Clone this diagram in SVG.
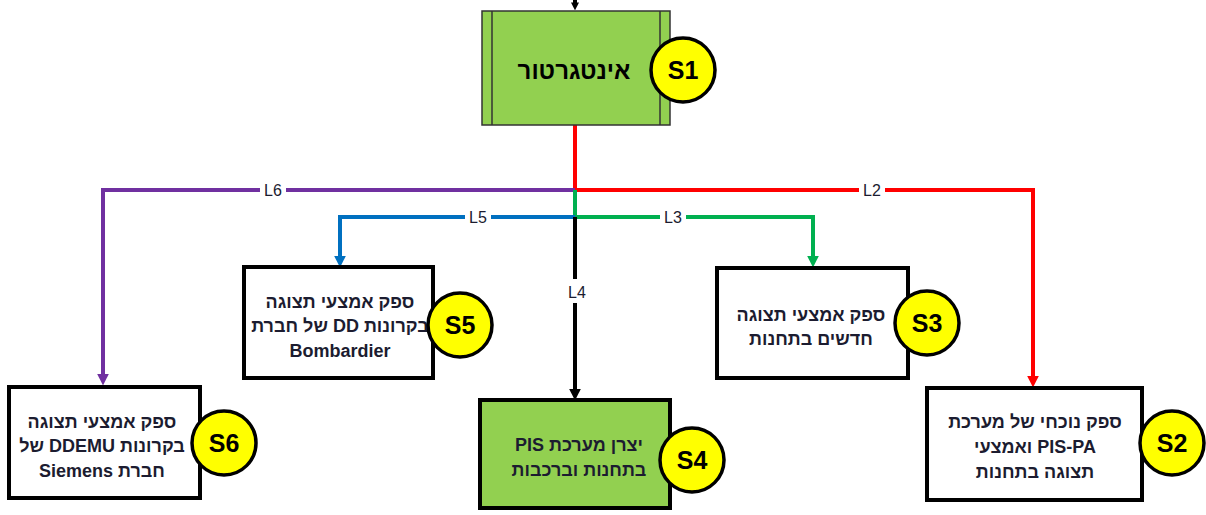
<svg xmlns="http://www.w3.org/2000/svg" width="1206" height="515" viewBox="0 0 1206 515">
<style>
.box{fill:#fff;stroke:#000;stroke-width:4}
.green{fill:#92d050}
.t{font-family:"Liberation Sans","DejaVu Sans",sans-serif;font-size:18px;font-weight:bold;fill:#1c1c30;text-anchor:middle;direction:rtl;unicode-bidi:embed}
.c{fill:#ffff00;stroke:#000;stroke-width:3.5}
.ct{font-family:"Liberation Sans",Arial,sans-serif;font-size:25px;font-weight:bold;fill:#000;text-anchor:middle}
.ln{fill:none;stroke-width:4}
.lb{font-family:"Liberation Sans",Arial,sans-serif;font-size:16px;fill:#1c1c30;text-anchor:middle}
.bg{fill:#fff}
</style>
<defs>
<marker id="aR" markerUnits="userSpaceOnUse" markerWidth="12" markerHeight="12" refX="2" refY="5" orient="auto" viewBox="0 0 10 10"><path d="M0,0 L10,5 L0,10 z" fill="#ff0000"/></marker>
<marker id="aP" markerUnits="userSpaceOnUse" markerWidth="12" markerHeight="12" refX="2" refY="5" orient="auto" viewBox="0 0 10 10"><path d="M0,0 L10,5 L0,10 z" fill="#7030a0"/></marker>
<marker id="aG" markerUnits="userSpaceOnUse" markerWidth="12" markerHeight="12" refX="2" refY="5" orient="auto" viewBox="0 0 10 10"><path d="M0,0 L10,5 L0,10 z" fill="#00b050"/></marker>
<marker id="aB" markerUnits="userSpaceOnUse" markerWidth="12" markerHeight="12" refX="2" refY="5" orient="auto" viewBox="0 0 10 10"><path d="M0,0 L10,5 L0,10 z" fill="#0070c0"/></marker>
<marker id="aK" markerUnits="userSpaceOnUse" markerWidth="12" markerHeight="12" refX="2" refY="5" orient="auto" viewBox="0 0 10 10"><path d="M0,0 L10,5 L0,10 z" fill="#000"/></marker>
<marker id="aT" markerUnits="userSpaceOnUse" markerWidth="8" markerHeight="8" refX="2" refY="5" orient="auto" viewBox="0 0 10 10"><path d="M0,0 L10,5 L0,10 z" fill="#000"/></marker>
</defs>
<rect width="1206" height="515" fill="#fff"/>

<g id="connectors">
<path class="ln" stroke="#000" stroke-width="1.5" d="M575,0 V4" marker-end="url(#aT)"/>
<path class="ln" stroke="#ff0000" d="M575,125 V190 H1033 V378" marker-end="url(#aR)"/>
<path class="ln" stroke="#7030a0" d="M575,190 H103 V376" marker-end="url(#aP)"/>
<path class="ln" stroke="#00b050" d="M575,190 V217 H813 V258" marker-end="url(#aG)"/>
<path class="ln" stroke="#0070c0" d="M575,217 H340 V258" marker-end="url(#aB)"/>
<path class="ln" stroke="#000" d="M575,217 V391" marker-end="url(#aK)"/>
<rect class="bg" x="859" y="181" width="26" height="18"/><text class="lb" x="872" y="196">L2</text>
<rect class="bg" x="260" y="181" width="26" height="18"/><text class="lb" x="273" y="196">L6</text>
<rect class="bg" x="660" y="208" width="26" height="18"/><text class="lb" x="673" y="223">L3</text>
<rect class="bg" x="465" y="208" width="26" height="18"/><text class="lb" x="478" y="223">L5</text>
<rect class="bg" x="564" y="279" width="26" height="24"/><text class="lb" x="577" y="298">L4</text>
</g>

<g id="S1">
<rect x="482" y="11" width="188" height="114" fill="#92d050" stroke="#333" stroke-width="1.5"/>
<line x1="492" y1="11" x2="492" y2="125" stroke="#333" stroke-width="1.5"/>
<line x1="660" y1="11" x2="660" y2="125" stroke="#333" stroke-width="1.5"/>
<text class="t" x="574" y="79" style="font-size:24px;fill:#000">אינטגרטור</text>
<circle class="c" cx="683" cy="70" r="32"/>
<text class="ct" x="683" y="79">S1</text>
</g>

<g id="S2">
<rect class="box" x="927" y="388" width="215" height="112"/>
<text class="t" x="1035" y="428">ספק נוכחי של מערכת</text>
<text class="t" x="1035" y="453">PIS-PA ואמצעי</text>
<text class="t" x="1035" y="478">תצוגה בתחנות</text>
<circle class="c" cx="1172" cy="443" r="32"/>
<text class="ct" x="1172" y="452">S2</text>
</g>

<g id="S3">
<rect class="box" x="717" y="268" width="191" height="110"/>
<text class="t" x="811" y="321">ספק אמצעי תצוגה</text>
<text class="t" x="811" y="345">חדשים בתחנות</text>
<circle class="c" cx="927" cy="323" r="32"/>
<text class="ct" x="927" y="332">S3</text>
</g>

<g id="S4">
<rect class="box green" x="480" y="400" width="190" height="108"/>
<text class="t" x="579" y="451">יצרן מערכת PIS</text>
<text class="t" x="579" y="476">בתחנות וברכבות</text>
<circle class="c" cx="692" cy="460" r="32"/>
<text class="ct" x="692" y="469">S4</text>
</g>

<g id="S5">
<rect class="box" x="244" y="267" width="189" height="111"/>
<text class="t" x="340" y="308">ספק אמצעי תצוגה</text>
<text class="t" x="340" y="332">בקרונות DD של חברת</text>
<text class="t" x="340" y="357">Bombardier</text>
<circle class="c" cx="460" cy="325" r="32"/>
<text class="ct" x="460" y="334">S5</text>
</g>

<g id="S6">
<rect class="box" x="9" y="387" width="191" height="111"/>
<text class="t" x="102" y="428">ספק אמצעי תצוגה</text>
<text class="t" x="102" y="452">בקרונות DDEMU של</text>
<text class="t" x="102" y="477">חברת Siemens</text>
<circle class="c" cx="224" cy="443" r="32"/>
<text class="ct" x="224" y="452">S6</text>
</g>
</svg>
